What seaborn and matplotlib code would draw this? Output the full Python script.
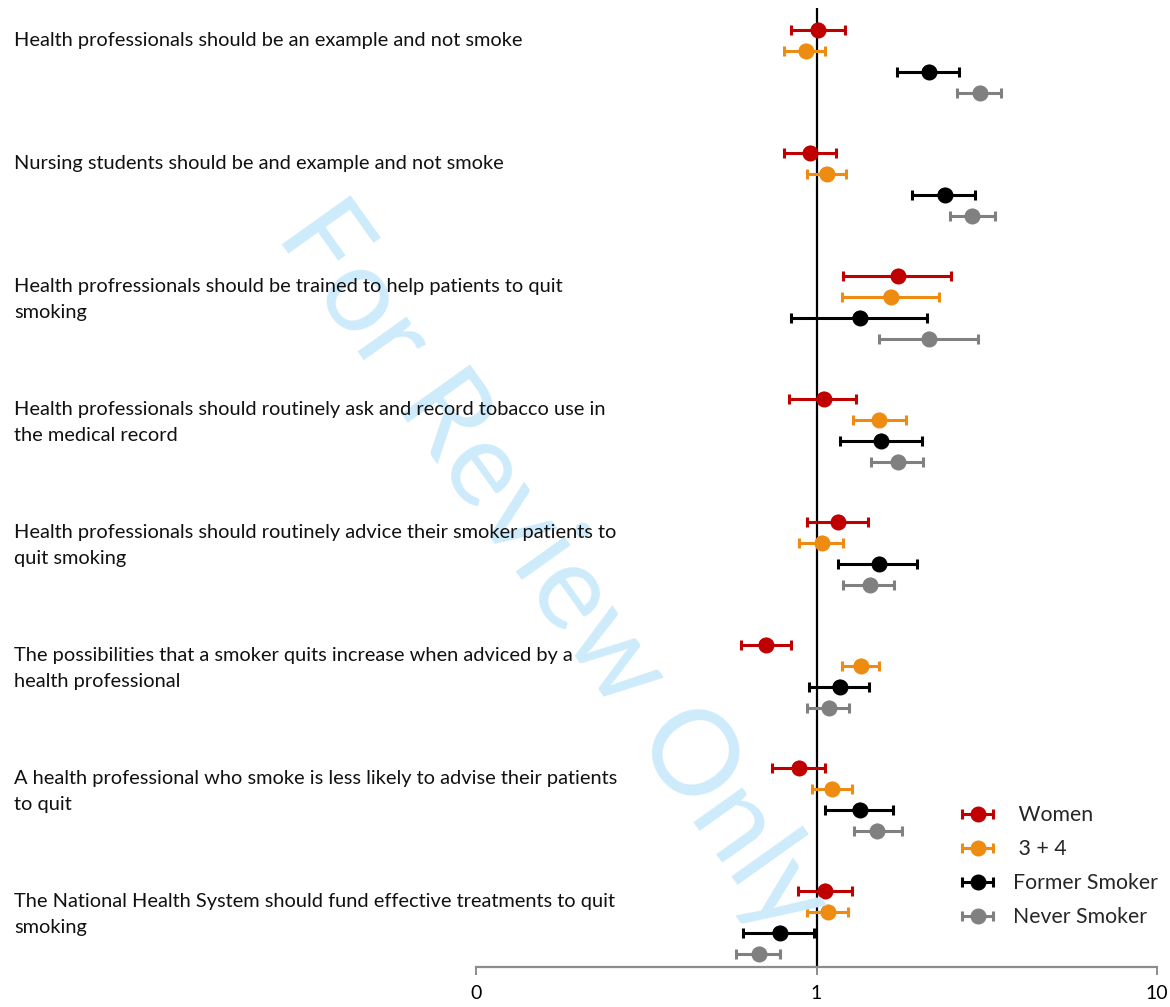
import numpy as np
import pandas as pd
import seaborn as sns
import matplotlib
matplotlib.use("Agg")
import matplotlib.pyplot as plt
from matplotlib import transforms
from matplotlib.container import ErrorbarContainer
from matplotlib.legend_handler import HandlerErrorbar

# ---------------- data ----------------
questions = [
    "Health professionals should be an example and not smoke",
    "Nursing students should be and example and not smoke",
    "Health profressionals should be trained to help patients to quit\nsmoking",
    "Health professionals should routinely ask and record tobacco use in\nthe medical record",
    "Health professionals should routinely advice their smoker patients to\nquit smoking",
    "The possibilities that a smoker quits increase when adviced by a\nhealth professional",
    "A health professional who smoke is less likely to advise their patients\nto quit",
    "The National Health System should fund effective treatments to quit\nsmoking",
]
series_names = [" Women", " 3 + 4", "Former Smoker", "Never Smoker"]

women_or = [1.01, 0.96, 1.74, 1.05, 1.16, 0.71, 0.89, 1.06]
women_lo = [0.84, 0.80, 1.20, 0.83, 0.94, 0.60, 0.74, 0.88]
women_hi = [1.21, 1.14, 2.48, 1.31, 1.42, 0.84, 1.06, 1.27]

g34_or = [0.93, 1.07, 1.65, 1.53, 1.04, 1.35, 1.11, 1.08]
g34_lo = [0.80, 0.94, 1.19, 1.28, 0.89, 1.19, 0.97, 0.94]
g34_hi = [1.06, 1.22, 2.29, 1.83, 1.20, 1.53, 1.27, 1.24]

former_or = [2.14, 2.38, 1.34, 1.55, 1.53, 1.17, 1.34, 0.78]
former_lo = [1.72, 1.91, 0.84, 1.17, 1.16, 0.95, 1.06, 0.61]
former_hi = [2.62, 2.92, 2.11, 2.04, 1.97, 1.43, 1.68, 0.98]

never_or = [3.02, 2.87, 2.14, 1.74, 1.44, 1.09, 1.51, 0.68]
never_lo = [2.59, 2.47, 1.53, 1.45, 1.20, 0.94, 1.29, 0.58]
never_hi = [3.48, 3.35, 2.98, 2.06, 1.69, 1.25, 1.78, 0.78]

tick_values = [0.1, 1, 10]
tick_labels = ["0", "1", "10"]

colors = ["#C00000", "#EE8C12", "#000000", "#808080"]

# ---------------- build table ----------------
ors = [women_or, g34_or, former_or, never_or]
los = [women_lo, g34_lo, former_lo, never_lo]
his = [women_hi, g34_hi, former_hi, never_hi]
group_step = 123 / 21.0
rows = []
for s, name in enumerate(series_names):
    for g in range(len(questions)):
        rows.append(dict(series=name, group=g, pos=g * group_step + s,
                         OR=ors[s][g], lo=los[s][g], hi=his[s][g]))
df = pd.DataFrame(rows)

# ---------------- figure ----------------
sns.set_theme(style="white")
plt.rcParams["font.family"] = ["Lato", "DejaVu Sans"]

fig = plt.figure(figsize=(11.7, 10.07), dpi=100)
ax = fig.add_axes([476 / 1170, 40 / 1007, (1157 - 476) / 1170, (967 - 8) / 1007])

# watermark
fig.text(0.473, 0.435, "For Review Only", rotation=-54.5, fontsize=85,
         color="#cdebfa", ha="center", va="center", zorder=0,
         rotation_mode="anchor")

ax.axvline(1, color="black", lw=1.6, zorder=1)

for s, name in enumerate(series_names):
    d = df[df.series == name]
    ax.errorbar(d.OR, d.pos,
                xerr=[d.OR - d.lo, d.hi - d.OR],
                fmt="o", ms=10.5, color=colors[s], ecolor=colors[s],
                elinewidth=2.2, capsize=3.5, capthick=2.2, label=name,
                zorder=3)

sns.scatterplot(data=df, x="OR", y="pos", hue="series", palette=colors,
                s=110, edgecolor="none", legend=False, ax=ax, zorder=4)

ax.set_xscale("log")
ax.set_xlim(0.1, 10)
ax.set_ylim(44.62, -1.05)
ax.set_xticks(tick_values)
ax.set_xticklabels(tick_labels, fontsize=14)
ax.xaxis.set_minor_locator(matplotlib.ticker.NullLocator())
ax.set_yticks([])
ax.set_xlabel("")
ax.set_ylabel("")
for sp in ["top", "right", "left"]:
    ax.spines[sp].set_visible(False)
ax.spines["bottom"].set_color("#8c8c8c")
ax.spines["bottom"].set_linewidth(1.6)
ax.tick_params(axis="x", which="major", bottom=True, direction="out",
               length=6, width=1.4, colors="#8c8c8c", labelcolor="black",
               pad=7)
ax.xaxis.get_major_ticks()[1].tick1line.set_color("black")
ax.patch.set_alpha(0)

# question labels
trans = transforms.blended_transform_factory(fig.transFigure, ax.transData)
for g, q in enumerate(questions):
    nlines = q.count("\n") + 1
    y = g * group_step + 0.5 + (nlines - 1) * 13 / 21.0
    fig.text(14 / 1170, y, q, transform=trans, ha="left", va="center",
             fontsize=14.4, linespacing=1.6, color="#111111")

leg = ax.legend(loc="upper left", bbox_to_anchor=(943 / 1170, 1 - 786 / 1007),
                bbox_transform=fig.transFigure, frameon=False, fontsize=15.3,
                handlelength=1.46, handletextpad=0.94, labelspacing=0.66,
                handler_map={ErrorbarContainer: HandlerErrorbar(xerr_size=0.74)})

fig.savefig("out.png", dpi=100)
